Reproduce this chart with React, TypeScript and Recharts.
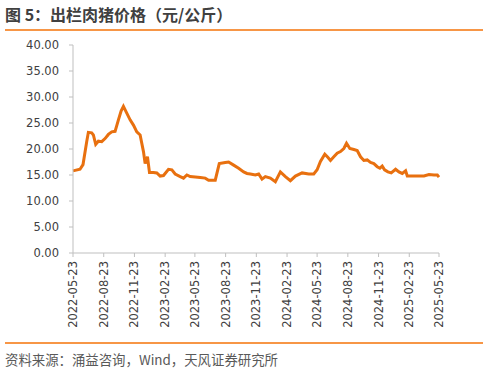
import { LineChart, Line, XAxis, YAxis } from 'recharts'

const dates = [
  '2022-05-23', '2022-06-13', '2022-06-22', '2022-07-03', '2022-07-08', '2022-07-18', '2022-07-23', '2022-07-30',
  '2022-08-07', '2022-08-17', '2022-08-27', '2022-09-06', '2022-09-16', '2022-09-26', '2022-10-06', '2022-10-14',
  '2022-10-21', '2022-10-31', '2022-11-10', '2022-11-20', '2022-11-30', '2022-12-10', '2022-12-20', '2022-12-25',
  '2023-01-01', '2023-01-07', '2023-01-19', '2023-01-29', '2023-02-08', '2023-02-18', '2023-03-05', '2023-03-15',
  '2023-03-25', '2023-04-09', '2023-04-19', '2023-04-29', '2023-05-09', '2023-05-24', '2023-06-08', '2023-06-23',
  '2023-07-03', '2023-07-23', '2023-08-04', '2023-08-22', '2023-09-01', '2023-09-16', '2023-10-01', '2023-10-16',
  '2023-10-26', '2023-11-05', '2023-11-20', '2023-11-30', '2023-12-10', '2023-12-20', '2024-01-04', '2024-01-19',
  '2024-02-03', '2024-02-18', '2024-03-04', '2024-03-19', '2024-04-08', '2024-04-28', '2024-05-13', '2024-05-23',
  '2024-06-02', '2024-06-15', '2024-06-24', '2024-07-02', '2024-07-12', '2024-07-22', '2024-08-01', '2024-08-11',
  '2024-08-19', '2024-08-29', '2024-09-10', '2024-09-20', '2024-09-30', '2024-10-10', '2024-10-20', '2024-10-30',
  '2024-11-09', '2024-11-19', '2024-11-27', '2024-12-04', '2024-12-11', '2024-12-21', '2024-12-31', '2025-01-13',
  '2025-01-23', '2025-02-02', '2025-02-12', '2025-02-17', '2025-03-09', '2025-04-08', '2025-04-23', '2025-05-08',
  '2025-05-18', '2025-05-23',
]

const prices = [
  15.8, 16.1, 17.0, 21.4, 23.2, 23.1, 22.7, 20.9,
  21.5, 21.4, 22.0, 22.8, 23.3, 23.4, 25.6, 27.3,
  28.2, 26.9, 25.6, 24.6, 23.3, 22.7, 19.5, 17.2,
  18.5, 15.5, 15.5, 15.4, 14.8, 14.9, 16.1, 16.0,
  15.2, 14.7, 14.4, 15.0, 14.7, 14.6, 14.5, 14.4,
  14.0, 14.0, 17.2, 17.4, 17.5, 16.9, 16.3, 15.6,
  15.3, 15.2, 15.0, 15.2, 14.2, 14.7, 14.4, 13.7,
  15.6, 14.7, 13.9, 14.8, 15.4, 15.2, 15.2, 16.0,
  17.6, 19.0, 18.4, 17.8, 18.5, 19.2, 19.5, 20.1,
  21.1, 20.1, 19.9, 19.7, 18.5, 17.8, 17.9, 17.4,
  17.2, 16.6, 16.3, 16.7, 16.0, 15.6, 15.4, 16.1,
  15.6, 15.3, 15.8, 14.8, 14.8, 14.8, 15.1, 15.0,
  15.0, 14.6,
]

const tickDates = [
  '2022-05-23', '2022-08-23', '2022-11-23', '2023-02-23', '2023-05-23', '2023-08-23', '2023-11-23',
  '2024-02-23', '2024-05-23', '2024-08-23', '2024-11-23', '2025-02-23', '2025-05-23',
]

const yTicks = [0, 5, 10, 15, 20, 25, 30, 35, 40]

const toTime = (d: string) => Date.parse(d + 'T00:00:00Z')
const fmtDate = (t: number) => new Date(t).toISOString().slice(0, 10)

const data = dates.map((d, i) => ({ t: toTime(d), price: prices[i] }))
const xTicks = tickDates.map(toTime)

const axisFont = 'DejaVu Sans, sans-serif'

function DateTick(props: any) {
  const { x, y, payload } = props
  return (
    <text
      x={x}
      y={y}
      transform={`rotate(-90, ${x}, ${y})`}
      textAnchor="end"
      dominantBaseline="central"
      fontSize={11.5}
      fontFamily={axisFont}
      fill="#404040"
    >
      {fmtDate(payload.value)}
    </text>
  )
}

export default function App() {
  return (
    <div style={{ position: 'fixed', left: 0, top: 0, width: 488, height: 373, background: '#fff' }}>
      {/* title */}
      <div
        style={{
          position: 'absolute', left: 5, top: 5, fontSize: 16, fontWeight: 'bold', color: '#404040',
          fontFamily: '"Noto Sans CJK SC", sans-serif', lineHeight: '19px', whiteSpace: 'nowrap',
        }}
      >
        图 5：出栏肉猪价格（元/公斤）
      </div>
      <div style={{ position: 'absolute', left: 5, top: 29, width: 478, height: 2, background: '#F79646' }} />

      <LineChart width={488} height={373} data={data} margin={{ top: 45, right: 49, bottom: 40, left: 8 }}>
        <XAxis
          dataKey="t"
          type="number"
          scale="time"
          domain={[xTicks[0], xTicks[xTicks.length - 1]]}
          ticks={xTicks}
          interval={0}
          tick={<DateTick />}
          tickSize={4}
          tickMargin={4}
          height={80}
          stroke="#bfbfbf"
        />
        <YAxis
          domain={[0, 40]}
          ticks={yTicks}
          interval={0}
          tickFormatter={(v: number) => v.toFixed(2)}
          tick={{ fontSize: 11.5, fontFamily: axisFont, fill: '#404040' }}
          tickSize={4}
          tickMargin={10}
          width={65}
          stroke="#bfbfbf"
        />
        <Line
          type="linear"
          dataKey="price"
          stroke="#E8700F"
          strokeWidth={3}
          dot={false}
          isAnimationActive={false}
        />
      </LineChart>

      {/* source */}
      <div style={{ position: 'absolute', left: 5, top: 342, width: 478, height: 2, background: '#F79646' }} />
      <div
        style={{
          position: 'absolute', left: 5, top: 351, fontSize: 13.4, color: '#595959',
          fontFamily: '"Noto Sans CJK SC", sans-serif', lineHeight: '17px', whiteSpace: 'nowrap',
        }}
      >
        资料来源：涌益咨询，Wind，天风证券研究所
      </div>
    </div>
  )
}
